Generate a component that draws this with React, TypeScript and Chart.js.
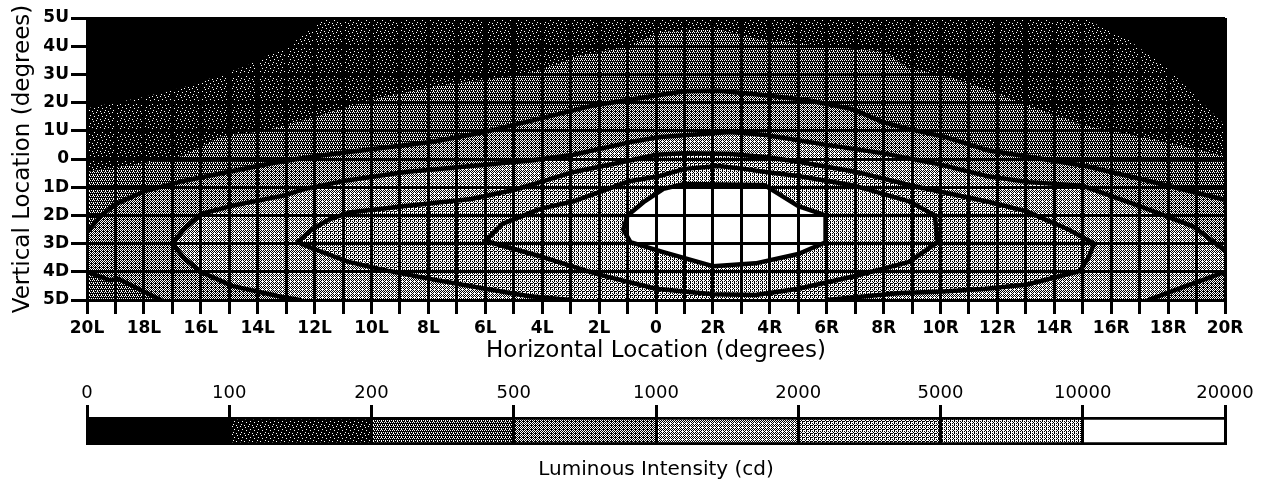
import React, { useEffect, useRef } from 'react';
import { Chart, registerables } from 'chart.js';

Chart.register(...registerables);

// ---------- data ----------
const xTickLabels = ['20L', '18L', '16L', '14L', '12L', '10L', '8L', '6L', '4L', '2L', '0',
  '2R', '4R', '6R', '8R', '10R', '12R', '14R', '16R', '18R', '20R'];
const yTickLabels = ['5D', '4D', '3D', '2D', '1D', '0', '1U', '2U', '3U', '4U', '5U'];
const levelLabels = ['0', '100', '200', '500', '1000', '2000', '5000', '10000', '20000'];

const X_MIN = -20, X_MAX = 20, Y_MIN = -5, Y_MAX = 5;

// contour lines, [horizontal deg (L<0, R>0), vertical deg (D<0, U>0)]
const contour100Left = [[-20, 1.8], [-18, 2.2], [-16.4, 2.6], [-14.4, 3.3], [-12.8, 4.1], [-12, 4.7], [-11.6, 5]];
const contour100Right = [[15, 5], [16.5, 4.3], [18, 3.2], [19, 2.2], [20, 1.2]];
const contour200 = [[-20, -0.45], [-18, -0.15], [-16.7, 0.1], [-15.3, 0.8], [-13.7, 1.0], [-12.3, 1.4], [-10, 2.1],
  [-7.65, 2.6], [-5.3, 2.9], [-4.2, 3.1], [-2.7, 3.65], [-0.9, 4.0], [0.15, 4.5], [2.2, 4.6], [3.6, 4.25],
  [5.85, 4.0], [8, 3.8], [8.9, 3.2], [10.1, 2.95], [11.65, 2.45], [13.3, 1.8], [15, 1.2], [17, 0.8], [20, 0.1]];
const contour500Corner = [[-20, -4.0], [-19.2, -4.3], [-18.9, -4.25], [-18, -4.7], [-17.4, -5]];
const contour500 = [[-20, -2.6], [-19.5, -2.0], [-19, -1.6], [-18, -1.15], [-16.7, -0.8], [-15, -0.45], [-13.5, -0.15],
  [-12.3, 0.05], [-10.8, 0.25], [-7.9, 0.6], [-6, 0.96], [-4.4, 1.35], [-2.2, 1.9], [0, 2.25], [1, 2.4], [2.2, 2.42],
  [3.5, 2.3], [5.25, 2.1], [6.9, 1.77], [8, 1.3], [8.9, 1.06], [10.1, 0.8], [11.7, 0.3], [13, 0.1], [15.1, -0.25],
  [17, -0.7], [20, -1.45]];
const contour1000 = [[-12.5, -5], [-13.1, -4.9], [-14.9, -4.5], [-16, -4.0], [-16.6, -3.5], [-17, -3.0], [-16.6, -2.5],
  [-16, -1.95], [-14.9, -1.66], [-13.1, -1.3], [-12.3, -1.05], [-10.8, -0.75], [-8.8, -0.46], [-6, -0.2], [-4.4, -0.05],
  [-2.9, 0.15], [-0.9, 0.6], [0.15, 0.78], [2.6, 0.96], [3.85, 0.85], [6, 0.5], [8, 0.2], [10, -0.2], [11.6, -0.6],
  [13.1, -0.82], [15, -0.95], [17, -1.67], [18.9, -2.4], [20, -3.25]];
const contour1000Corner = [[20, -4.0], [18.5, -4.55], [17.3, -5]];
const contour2000 = [[-3, -5], [-4.5, -4.86], [-6, -4.6], [-7.9, -4.26], [-9.5, -3.95], [-10.8, -3.65], [-12, -3.2],
  [-12.6, -2.95], [-12.1, -2.5], [-11.5, -2.15], [-10.8, -1.9], [-8.8, -1.67], [-6.5, -1.42], [-5, -1.1], [-4.07, -0.82],
  [-2.9, -0.46], [-1, -0.07], [0, 0.15], [1, 0.2], [2.6, 0.18], [3.85, 0.07], [5, -0.1], [7, -0.45], [9, -0.95],
  [11.6, -1.5], [13, -1.85], [14.5, -2.5], [15.1, -2.84], [15.4, -3.0], [15.2, -3.5], [14.9, -3.97], [13.05, -4.45],
  [11.6, -4.6], [10.1, -4.7], [8.6, -4.75], [7, -4.9], [6, -5]];
const contour5000 = [[-6, -2.9], [-5.4, -2.3], [-4.07, -1.77], [-2.9, -1.5], [-1.8, -1.1], [-1, -0.8], [0.15, -0.6],
  [1, -0.35], [2.2, -0.25], [3.1, -0.35], [3.85, -0.46], [5, -0.6], [7, -0.95], [8.9, -1.5], [9.8, -2.0], [9.9, -2.95],
  [8.9, -3.65], [7, -4.15], [5, -4.6], [3.5, -4.82], [2, -4.8], [0, -4.6], [-2, -4.1], [-4.07, -3.45], [-5.5, -3.05],
  [-6, -2.9]];
const contour10000 = [[-1.15, -2.5], [-1.0, -2.0], [-0.4, -1.5], [0.26, -1.06], [0.96, -0.89], [3.8, -0.92],
  [5.0, -1.67], [5.96, -2.0], [5.96, -2.95], [5.0, -3.37], [3.5, -3.7], [2.0, -3.8], [0.26, -3.3], [-0.9, -2.95],
  [-1.15, -2.5]];

// ---------- styles ----------
const levelTiles: string[][] = [
  ['.'],
  ['W.......', '.....W..', '........', '..W.....', '......W.', '........', '.W......', '....W...'],
  ['W.W.', '....', '.W.W', '.W..'],
  ['W.W.', '.W.W', 'W.W.', '.W..'],
  ['W.W.', '.WWW', 'W.W.', '.W.W'],
  ['WW.W', '.W.W', 'W.WW', '.W..'],
  ['W.WW', '.W.W', 'WW.W', '.W.W'],
  ['W'],
];

function makePattern(rows: string[]): CanvasPattern | string {
  const h = rows.length, w = rows[0].length;
  const c = document.createElement('canvas');
  c.width = w; c.height = h;
  const g = c.getContext('2d');
  if (!g) return '#888';
  g.fillStyle = '#000';
  g.fillRect(0, 0, w, h);
  g.fillStyle = '#fff';
  rows.forEach((r, y) => { for (let x = 0; x < w; x++) if (r[x] === 'W') g.fillRect(x, y, 1, 1); });
  return g.createPattern(c, 'repeat') ?? '#888';
}

const toPts = (arr: number[][]) => arr.map(([x, y]) => ({ x, y }));

const FONT = 'DejaVu Sans';

export default function App() {
  const mainRef = useRef<HTMLCanvasElement>(null);
  const barRef = useRef<HTMLCanvasElement>(null);

  useEffect(() => {
    if (!mainRef.current || !barRef.current) return;
    const pats = levelTiles.map(makePattern);

    const polygons: number[][][] = [
      [[X_MIN, Y_MIN], [X_MIN, Y_MAX], [X_MAX, Y_MAX], [X_MAX, Y_MIN]],
      [[X_MIN, Y_MIN], ...contour100Left, ...contour100Right, [X_MAX, Y_MIN]],
      [[X_MIN, Y_MIN], ...contour200, [X_MAX, Y_MIN]],
      [...[...contour500Corner].reverse(), ...contour500, [X_MAX, Y_MIN]],
      [...contour1000, ...contour1000Corner],
      [...contour2000],
      [...contour5000],
      [...contour10000],
    ];
    const fillSets = polygons.map((poly, i) => ({
      data: toPts(poly),
      backgroundColor: pats[i],
      borderWidth: 0,
      fill: 'shape',
      pointRadius: 0,
      tension: 0,
      order: 100 - i,
    }));
    const lines = [contour500Corner, contour500, contour1000, contour1000Corner, contour2000, contour5000, contour10000];
    const lineSets = lines.map((ln) => ({
      data: toPts(ln),
      borderColor: '#000',
      borderWidth: 4.5,
      borderJoinStyle: 'round',
      borderCapStyle: 'round',
      fill: false,
      pointRadius: 0,
      tension: 0,
      order: 1,
    }));

    const main = new Chart(mainRef.current, {
      type: 'line',
      data: { datasets: [...lineSets, ...fillSets] as any },
      options: {
        animation: false,
        responsive: false,
        maintainAspectRatio: false,
        layout: { padding: { left: 0, right: 43, top: 18, bottom: 0 } },
        plugins: { legend: { display: false }, tooltip: { enabled: false } },
        scales: {
          x: {
            type: 'linear', min: X_MIN, max: X_MAX, position: 'bottom',
            border: { display: false },
            grid: { z: 1, color: '#000', lineWidth: 3, drawTicks: true, tickLength: 14, tickWidth: 3, tickColor: '#000' },
            ticks: {
              z: 1, stepSize: 1, autoSkip: false, maxRotation: 0, minRotation: 0, padding: 4, color: '#000',
              font: { family: FONT, size: 17, weight: 'bold' },
              callback: (v: any) => { const n = Math.round(Number(v)); return n % 2 === 0 ? xTickLabels[(n + 20) / 2] : ''; },
            },
            title: { display: true, text: 'Horizontal Location (degrees)', color: '#000', padding: { top: 0, bottom: 1 }, font: { family: FONT, size: 23 } },
            afterFit: (s: any) => { s.height = 66; },
          },
          y: {
            type: 'linear', min: Y_MIN, max: Y_MAX,
            border: { display: false },
            grid: { z: 1, color: '#000', lineWidth: 3, drawTicks: true, tickLength: 16, tickWidth: 3, tickColor: '#000' },
            ticks: {
              z: 1, stepSize: 1, autoSkip: false, padding: 2, color: '#000',
              font: { family: FONT, size: 17, weight: 'bold' },
              callback: (v: any) => yTickLabels[Math.round(Number(v)) + 5],
            },
            title: { display: true, text: 'Vertical Location (degrees)', color: '#000', padding: { top: 9, bottom: 0 }, font: { family: FONT, size: 23 } },
            afterFit: (s: any) => { s.width = 87; },
          },
        },
      } as any,
    });

    const barSets = levelLabels.slice(0, -1).map((_, i) => ({
      data: [[i, i + 1]],
      backgroundColor: pats[i],
      borderColor: '#000',
      borderWidth: { top: 3, bottom: 3, left: 0, right: 0 },
      borderSkipped: false,
      barPercentage: 1,
      categoryPercentage: 1,
      grouped: false,
    }));

    const bar = new Chart(barRef.current, {
      type: 'bar',
      data: { labels: ['Luminous Intensity'], datasets: barSets as any },
      options: {
        indexAxis: 'y',
        animation: false,
        responsive: false,
        maintainAspectRatio: false,
        layout: { padding: { left: 87, right: 43, top: 0, bottom: 0 } },
        plugins: {
          legend: { display: false },
          tooltip: { enabled: false },
          title: { display: true, position: 'bottom', text: 'Luminous Intensity (cd)', color: '#000', padding: { top: 13, bottom: 5 }, font: { family: FONT, size: 20, weight: 'normal' } },
        },
        scales: {
          x: {
            type: 'linear', min: 0, max: 8, position: 'top',
            border: { display: false },
            grid: { z: 1, color: '#000', lineWidth: 3, drawTicks: true, tickLength: 12, tickWidth: 3, tickColor: '#000' },
            ticks: {
              z: 1, stepSize: 1, autoSkip: false, maxRotation: 0, padding: 1, color: '#000',
              font: { family: FONT, size: 18 },
              callback: (v: any) => levelLabels[Math.round(Number(v))],
            },
            afterFit: (s: any) => { s.height = 47; },
          },
          y: { type: 'category', display: false },
        },
      } as any,
    });

    return () => { main.destroy(); bar.destroy(); };
  }, []);

  return (
    <div style={{ position: 'absolute', left: 0, top: 0, width: 1268, height: 487, background: '#fff', overflow: 'hidden' }}>
      <div style={{ position: 'absolute', left: 0, top: 0, width: 1268, height: 366 }}>
        <canvas ref={mainRef} width={1268} height={366} style={{ width: 1268, height: 366, display: 'block' }} />
      </div>
      <div style={{ position: 'absolute', left: 0, top: 370, width: 1268, height: 117 }}>
        <canvas ref={barRef} width={1268} height={117} style={{ width: 1268, height: 117, display: 'block' }} />
      </div>
    </div>
  );
}
